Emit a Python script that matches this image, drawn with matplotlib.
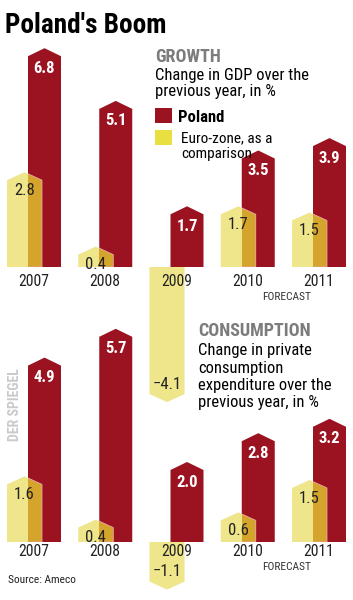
import os
import matplotlib
matplotlib.use('Agg')
import matplotlib.pyplot as plt
from matplotlib.patches import Polygon, Rectangle
from matplotlib import font_manager
from matplotlib.font_manager import FontProperties

# ---- data ----
years = ['2007', '2008', '2009', '2010', '2011']
gdp_poland = [6.8, 5.1, 1.7, 3.5, 3.9]
gdp_euro = [2.8, 0.4, -4.1, 1.7, 1.5]
cons_poland = [4.9, 5.7, 2.0, 2.8, 3.2]
cons_euro = [1.6, 0.4, -1.1, 0.6, 1.5]

# ---- style ----
RED = '#9b1220'
YEL = '#efe58b'
OCH = '#d4a42c'
GREY = '#7c7c7c'

files = {os.path.basename(f.fname): f.fname for f in font_manager.fontManager.ttflist}


def pick(cands, weight):
    for c in cands:
        if c in files:
            return FontProperties(fname=files[c])
    return FontProperties(family='DejaVu Sans', stretch='condensed', weight=weight)


HEAVY = pick(['NotoSans-ExtraCondensedBlack.ttf', 'NotoSans-ExtraCondensedExtraBold.ttf',
              'NotoSans-ExtraCondensedBold.ttf', 'NotoSans-CondensedBlack.ttf',
              'NotoSans-CondensedBold.ttf', 'RobotoCondensed-Black.ttf',
              'RobotoCondensed-ExtraBold.ttf',
              'RobotoCondensed-Bold.ttf', 'DejaVuSansCondensed-Bold.ttf'], 'bold')
BOLD = pick(['NotoSans-CondensedBold.ttf', 'NotoSans-ExtraCondensedBold.ttf',
             'RobotoCondensed-Bold.ttf', 'DejaVuSansCondensed-Bold.ttf'], 'bold')
REG = pick(['NotoSans-Condensed.ttf', 'NotoSans-CondensedRegular.ttf',
            'NotoSans-ExtraCondensed.ttf', 'RobotoCondensed-Regular.ttf',
            'DejaVuSansCondensed.ttf'], 'normal')

W, H = 353, 600
fig = plt.figure(figsize=(W / 100, H / 100), dpi=100)
renderer = fig.canvas.get_renderer()
XPX = 71.25  # pixels per category


def fx(px):
    return px / W


def fy(px):
    return 1 - px / H


def fit_size(text, fp, target_w, max_size):
    t = fig.text(0, 0, text, fontproperties=fp, fontsize=20)
    w = t.get_window_extent(renderer).width
    t.remove()
    return min(20 * target_w / w, max_size)


def fprop(fp, size):
    p = fp.copy()
    p.set_size(size)
    return p


S_PVAL = fit_size('6.8', BOLD, 23, 12)
S_EVAL = fit_size('2.8', REG, 21, 12)
S_YEAR = fit_size('2007', REG, 31, 12)
S_FC = fit_size('FORECAST', REG, 49, 9)


def panel(baseline, scale, ylo, yhi, pol, eur, year_off):
    top = baseline - scale * yhi
    bot = baseline - scale * ylo
    ax = fig.add_axes([0, 1 - bot / H, 1, (bot - top) / H])
    ax.set_xlim(-34 / XPX, (W - 34) / XPX)
    ax.set_ylim(ylo, yhi)
    ax.axis('off')
    ax.patch.set_alpha(0)
    roof = 8 / scale
    for i, (p, e) in enumerate(zip(pol, eur)):
        pl, pr = i - 6 / XPX, i + 27 / XPX
        el, er = i - 27 / XPX, i + 8 / XPX
        pc, ec = (pl + pr) / 2, (el + er) / 2
        sp = 1 if p >= 0 else -1
        se = 1 if e >= 0 else -1
        ax.add_patch(Polygon([(pl, 0), (pl, p), (pc, p + sp * roof), (pr, p), (pr, 0)],
                             closed=True, facecolor=RED, edgecolor='none', zorder=2))
        epts = [(el, 0), (el, e), (ec, e + se * roof), (er, e), (er, 0)]
        ax.add_patch(Polygon(epts, closed=True, facecolor=YEL, edgecolor='none', zorder=3))
        if se == sp:
            ov = Polygon(epts, closed=True, facecolor=OCH, edgecolor='#e8a0a0',
                         linewidth=0.6, zorder=4)
            clip = Rectangle((pl, 0), pr - pl, p, transform=ax.transData)
            ax.add_patch(ov)
            ov.set_clip_path(clip)
        ax.annotate(f'{p:.1f}', (pc, p), xytext=(0, -12 * sp), textcoords='offset pixels',
                    ha='center', va='center', color='white',
                    fontproperties=fprop(BOLD, S_PVAL), zorder=6)
        lab = f'{e:.1f}'.replace('-', '\u2212')
        ax.annotate(lab, (ec, e), xytext=(0, -10 * se), textcoords='offset pixels',
                    ha='center', va='center', color='#222222',
                    fontproperties=fprop(REG, S_EVAL), zorder=6)
        ax.annotate(years[i], (i, 0), xytext=(0, -year_off), textcoords='offset pixels',
                    ha='center', va='center', color='#222222',
                    fontproperties=fprop(REG, S_YEAR), zorder=7)
    ax.annotate('FORECAST', (3.55, 0), xytext=(0, -year_off - 15), textcoords='offset pixels',
                ha='center', va='center', color='#333333',
                fontproperties=fprop(REG, S_FC), zorder=7)
    return ax


panel(267, 31, -4.7, 7.6, gdp_poland, gdp_euro, 15)
panel(542, 36, -1.6, 6.3, cons_poland, cons_euro, 10)

# ---- texts ----
s = fit_size("Poland's Boom", HEAVY, 162, 24)
fig.text(fx(5), fy(33), "Poland's Boom", fontproperties=fprop(HEAVY, s), va='baseline')

s = fit_size('GROWTH', BOLD, 73, 13)
fig.text(fx(155), fy(62), 'GROWTH', fontproperties=fprop(BOLD, s), color=GREY, va='baseline')
s = fit_size('Change in GDP over the', REG, 157, 12)
fig.text(fx(155), fy(80), 'Change in GDP over the', fontproperties=fprop(REG, s), va='baseline')
fig.text(fx(155), fy(96), 'previous year, in %', fontproperties=fprop(REG, s), va='baseline')

fig.add_artist(Rectangle((fx(155), fy(123)), fx(17), 15 / H, transform=fig.transFigure,
                         facecolor=RED, edgecolor='none'))
fig.add_artist(Rectangle((fx(155), fy(145)), fx(17), 15 / H, transform=fig.transFigure,
                         facecolor='#e8e040', edgecolor='none'))
s = fit_size('Poland', BOLD, 50, 12)
fig.text(fx(178), fy(122), 'Poland', fontproperties=fprop(BOLD, s), va='baseline')
s = fit_size('Euro-zone, as a', REG, 91, 11)
fig.text(fx(181), fy(142), 'Euro-zone, as a', fontproperties=fprop(REG, s), va='baseline')
fig.text(fx(181), fy(158), 'comparison', fontproperties=fprop(REG, s), va='baseline')

s = fit_size('CONSUMPTION', BOLD, 127, 13)
fig.text(fx(198), fy(336), 'CONSUMPTION', fontproperties=fprop(BOLD, s), color=GREY,
         va='baseline')
s = fit_size('expenditure over the', REG, 139, 12)
for k, line in enumerate(['Change in private', 'consumption',
                          'expenditure over the', 'previous year, in %']):
    fig.text(fx(198), fy(355 + 17.5 * k), line, fontproperties=fprop(REG, s), va='baseline')

s = fit_size('DER SPIEGEL', HEAVY, 74, 11)
fig.text(fx(15), fy(405), 'DER SPIEGEL', fontproperties=fprop(HEAVY, s), color='#cacaca',
         rotation=90, ha='center', va='center')
s = fit_size('Source: Ameco', REG, 68, 9)
fig.text(fx(8), fy(583), 'Source: Ameco', fontproperties=fprop(REG, s), color='#222222',
         va='baseline')

fig.savefig('out.png', dpi=100)
